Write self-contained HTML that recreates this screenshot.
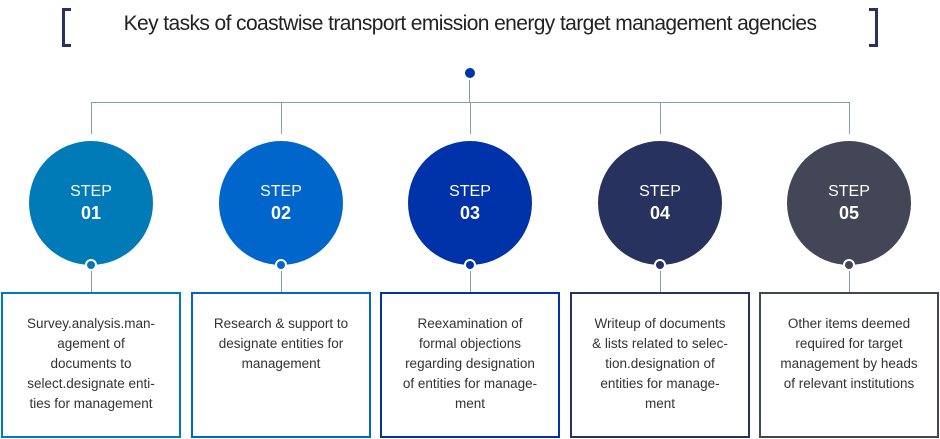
<!DOCTYPE html>
<html><head><meta charset="utf-8"><style>
body{margin:0;width:940px;height:439px;background:#fff;font-family:"Liberation Sans",sans-serif;position:relative;overflow:hidden}
.a{position:absolute}
.title{left:0;width:940px;top:12px;text-align:center;font-size:21px;color:#222;letter-spacing:-0.6px}
.br{top:8px;width:6px;height:33px;border:3px solid #283260}
.c{width:124px;height:124px;border-radius:50%;color:#fff;text-align:center;top:141px}
.c .s{margin-top:42px;font-size:16px}
.c .n{font-size:18px;font-weight:bold;margin-top:2px}
.d{width:8px;height:8px;border-radius:50%;border:2px solid #fff;top:259px}
.bx{top:292px;width:176px;height:142px;border:2px solid;box-sizing:content-box;text-align:center;font-size:13.5px;line-height:20px;color:#333;padding-top:0}
.bx p{margin:20px 12px 0}
.ln{background:#8a9aab}
</style></head><body>
<div class="a title">Key tasks of coastwise transport emission energy target management agencies</div>
<div class="a br" style="left:62px;border-right:none"></div>
<div class="a br" style="left:869px;border-left:none"></div>
<div class="a" style="left:465px;top:68px;width:10px;height:10px;border-radius:50%;background:#0033aa"></div>
<div class="a ln" style="left:469px;top:80px;width:1px;height:23px"></div>
<div class="a ln" style="left:91px;top:102px;width:759px;height:1px"></div>
<div id="steps"></div>
<script>
const labels=["01","02","03","04","05"];
const colors=["#007bb8","#0066cc","#0033aa","#28325e","#434656"];
const xs=[91,281,470,660,849];
const texts=["Survey.analysis.man-<br>agement of<br>documents to<br>select.designate enti-<br>ties for management","Research &amp; support to<br>designate entities for<br>management","Reexamination of<br>formal objections<br>regarding designation<br>of entities for manage-<br>ment","Writeup of documents<br>&amp; lists related to selec-<br>tion.designation of<br>entities for manage-<br>ment","Other items deemed<br>required for target<br>management by heads<br>of relevant institutions"];
const root=document.getElementById('steps');
labels.forEach((l,i)=>{
 const x=xs[i],col=colors[i];
 let v=document.createElement('div');v.className='a ln';v.style.cssText=`left:${x}px;top:102px;width:1px;height:32px`;
 
 root.appendChild(v);
 let c=document.createElement('div');c.className='a c';c.style.left=(x-62)+'px';c.style.background=col;
 c.innerHTML=`<div class="s">STEP</div><div class="n">${l}</div>`;
 
 root.appendChild(c);
 let v2=document.createElement('div');v2.className='a ln';v2.style.cssText=`left:${x}px;top:270px;width:1px;height:22px`;
 
 root.appendChild(v2);
 let d=document.createElement('div');d.className='a d';d.style.left=(x-6)+'px';d.style.background=col;
 
 root.appendChild(d);
 let b=document.createElement('div');b.className='a bx';b.style.left=(x-90)+'px';b.style.borderColor=col;
 b.innerHTML=`<p>${texts[i]}</p>`;
 
 root.appendChild(b);
});
</script>
</body></html>
